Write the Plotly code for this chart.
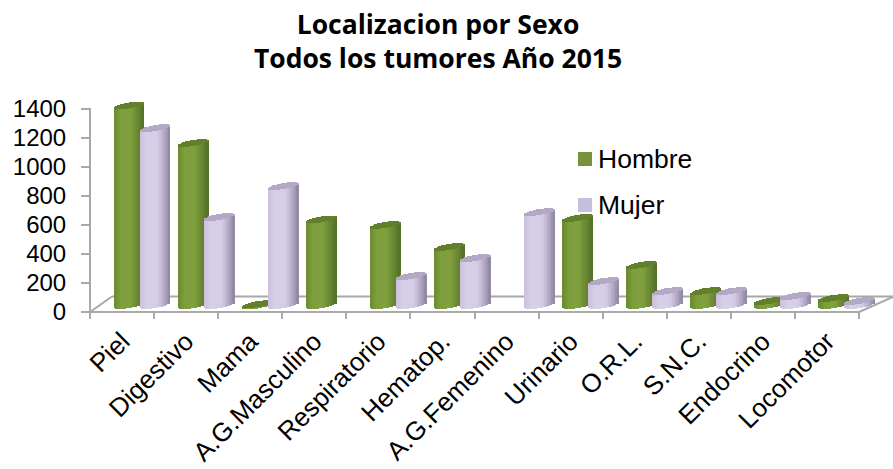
import math
import plotly.graph_objects as go

categories = ["Piel", "Digestivo", "Mama", "A.G.Masculino", "Respiratorio", "Hematop.",
              "A.G.Femenino", "Urinario", "O.R.L.", "S.N.C.", "Endocrino", "Locomotor"]
hombre = [1376, 1117, 5, 590, 552, 400, None, 600, 276, 96, 28, 48]
mujer = [1220, 607, 820, None, 200, 324, 641, 165, 96, 96, 62, 28]
y_ticks = [0, 200, 400, 600, 800, 1000, 1200, 1400]
title_lines = ["Localizacion por Sexo", "Todos los tumores Año 2015"]

W, H = 893, 469
L, R, T, B = 90, 859, 109, 312      # the axes' own extent in px
PT = 94                             # the plot area reaches above and right of the axes so caps are not clipped
CAT = (R - L) / len(categories)
UNIT = (B - T) / 1400               # px per data unit
BASE = 7 / UNIT                     # depth of the cylinders' base above the front floor line
DIAM = 30 / CAT
SLICES = 20
TILT = 2.5 / UNIT
ARC = 3 / UNIT

GREEN = [(-1, "#6a8a30"), (-0.5, "#7f9f3f"), (0.1, "#80a03e"), (0.7, "#64802f"), (1, "#54702a")]
PURPLE = [(-1, "#cbc1dd"), (-0.5, "#d8cfe9"), (0.2, "#d5cce6"), (0.7, "#aea4c1"), (1, "#8e859f")]


def hex2(c):
    return [int(c[i:i + 2], 16) for i in (1, 3, 5)]


def shade(stops, t):
    for (a, ca), (b, cb) in zip(stops, stops[1:]):
        if t <= b:
            f = (t - a) / (b - a)
            return "rgb(%d,%d,%d)" % tuple(round(x + (y - x) * f) for x, y in zip(hex2(ca), hex2(cb)))
    return stops[-1][1]


fig = go.Figure()


def cylinders(values, left_px, stops, cap_color):
    sw = DIAM / SLICES
    left = left_px / CAT
    for i in range(SLICES):
        t = -1 + (i + 0.5) * 2 / SLICES
        low = TILT * t - ARC * math.sqrt(1 - t * t)
        high = TILT * t + ARC * math.sqrt(1 - t * t)
        present = [v is not None for v in values]
        common = dict(x=categories, width=sw * 1.3, offset=left + i * sw, hoverinfo="skip",
                      showlegend=False, marker_line_width=0)
        fig.add_trace(go.Bar(y=values,
                             base=[BASE + low if p else None for p in present],
                             marker_color=shade(stops, t), **common))
        fig.add_trace(go.Bar(y=[high - low if p else None for p in present],
                             base=[BASE + v + low if v is not None else None for v in values],
                             marker_color=cap_color, **common))


cylinders(hombre, -8, GREEN, "#627f2c")
cylinders(mujer, 18, PURPLE, "#b3a9c6")

GRID = "#a9a9a9"


def fx(x):
    return (x - L) / (W - L)


def fy(y):
    return (B - y) / (B - PT)


shapes = []
for x0, y0, x1, y1 in [(112, 296.5, 893, 296.5), (90, 312, 112, 296.5), (859, 312, 893, 297),
                       (89, 312, 860, 312), (90, 313, 90, 108)]:
    shapes.append(dict(type="line", xref="paper", yref="paper", layer="below",
                       x0=fx(x0), x1=fx(x1), y0=fy(y0), y1=fy(y1),
                       line=dict(color=GRID, width=2)))

annotations = []
for y_px, col, name in [(159, "#76933c", "Hombre"), (205, "#c6bfdb", "Mujer")]:
    shapes.append(dict(type="rect", xref="paper", yref="paper", layer="above",
                       x0=fx(578), x1=fx(592), y0=fy(y_px + 7), y1=fy(y_px - 7),
                       fillcolor=col, line_width=0))
    annotations.append(dict(xref="paper", yref="paper", x=fx(596), y=fy(y_px),
                            xanchor="left", yanchor="middle", showarrow=False, text=name,
                            font=dict(family="Liberation Sans", size=26.5, color="#000000")))

fig.update_layout(
    width=W, height=H, autosize=False,
    margin=dict(l=L, r=0, t=PT, b=H - B, pad=0),
    paper_bgcolor="white", plot_bgcolor="white",
    barmode="overlay", bargap=0, showlegend=False,
    shapes=shapes, annotations=annotations,
    title=dict(text="<br>".join(title_lines), x=438 / W, xanchor="center", y=1 - 34 / H, yanchor="middle",
               font=dict(family="Open Sans", size=26.5, color="#000000", weight="bold")),
    xaxis=dict(type="category", categoryorder="array", categoryarray=categories, automargin=False,
               range=[-0.5, len(categories) - 0.5 + (W - R) / CAT], tickson="boundaries",
               ticks="outside", ticklen=6, tickwidth=2, tickcolor=GRID,
               showline=False, showgrid=False, zeroline=False,
               ticklabelstandoff=8,
               tickangle=-45, tickfont=dict(family="Liberation Sans", size=26, color="#000000")),
    yaxis=dict(range=[0, (B - PT) / UNIT], tickvals=y_ticks, ticks="outside", ticklen=8, tickwidth=2, tickcolor=GRID,
               showline=False, showgrid=False, zeroline=False, automargin=False,
               ticklabelstandoff=10,
               tickfont=dict(family="Liberation Sans", size=24, color="#000000")),
)

fig.write_html("out.html", config={"displayModeBar": False},
               post_script="document.body.style.margin='0';document.body.style.overflow='hidden';window.dispatchEvent(new Event('resize'));")
